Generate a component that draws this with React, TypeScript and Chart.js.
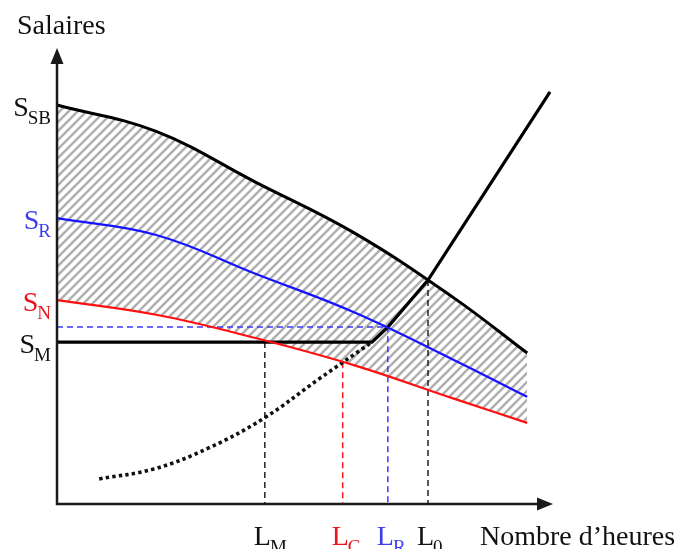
import React, { useEffect, useRef } from 'react';
import { Chart, registerables } from 'chart.js';

Chart.register(...registerables);

// Hours (x, 0-100) and wages (y, 0-100)
const curveHours = [0, 20, 40, 60, 80, 94.8];
const sbWages = [87.5, 81.7, 70.6, 59.4, 45.2, 33.1];
const srWages = [62.7, 59.0, 50.5, 42.0, 31.6, 23.5];
const snWages = [44.7, 41.5, 36.4, 30.4, 23.1, 17.8];
const smHours = [0, 63.5, 66.7, 74.8, 99.4];
const smWages = [35.5, 35.5, 38.8, 49.1, 90.4];
const dotHours = [8.5, 19.6, 30.6, 41.7, 52.8, 63.5];
const dotWages = [5.5, 7.7, 12.3, 18.8, 27.4, 35.5];

// Guide lines: L_M, L_C, L_R, L_0
const xLabelSubs = ['M', 'C', 'R', '0'];
const xLabelHours = [41.9, 57.6, 66.7, 74.8];
const xLabelWages = [35.5, 31.1, 38.8, 49.1];
const xLabelColors = ['#111111', '#e8141a', '#3d3df0', '#111111'];
const guideColors = ['#222222', '#ff1a1a', '#3a3aff', '#222222'];

// Wage labels: S_SB, S_R, S_N, S_M
const yLabelSubs = ['SB', 'R', 'N', 'M'];
const yLabelWages = [87.5, 62.7, 44.7, 35.5];
const yLabelColors = ['#111111', '#3d3df0', '#e8141a', '#111111'];

const yAxisTitle = 'Salaires';
const xAxisTitle = 'Nombre d\u2019heures';

const FONT = '"Liberation Serif", "Times New Roman", serif';

const pts = (xs: number[], ys: number[]) => xs.map((x, i) => ({ x, y: ys[i] }));

function makeHatch(): CanvasPattern | string {
  const n = 9;
  const c = document.createElement('canvas');
  c.width = n;
  c.height = n;
  const g = c.getContext('2d');
  if (!g) return '#bbb';
  g.strokeStyle = '#b0b0b0';
  g.lineWidth = 2.5;
  g.beginPath();
  g.moveTo(-2, n + 2);
  g.lineTo(n + 2, -2);
  g.moveTo(-2, 2);
  g.lineTo(2, -2);
  g.moveTo(n - 2, n + 2);
  g.lineTo(n + 2, n - 2);
  g.stroke();
  const p = g.createPattern(c, 'repeat');
  return p || '#bbb';
}

function drawSub(
  ctx: CanvasRenderingContext2D,
  main: string,
  sub: string,
  x: number,
  y: number,
  color: string,
  align: 'left' | 'right',
) {
  ctx.fillStyle = color;
  ctx.textAlign = 'left';
  ctx.textBaseline = 'alphabetic';
  ctx.font = `28px ${FONT}`;
  const wm = ctx.measureText(main).width;
  ctx.font = `19px ${FONT}`;
  const ws = ctx.measureText(sub).width;
  const left = align === 'left' ? x : x - wm - ws;
  ctx.font = `28px ${FONT}`;
  ctx.fillText(main, left, y);
  ctx.font = `19px ${FONT}`;
  ctx.fillText(sub, left + wm - 1, y + 8);
}

const overlay = {
  id: 'overlay',
  afterDatasetsDraw(chart: any) {
    const { ctx, scales } = chart;
    const xs = scales.x;
    const ys = scales.y;
    const ox = xs.getPixelForValue(0);
    const oy = ys.getPixelForValue(0);
    const tx = xs.getPixelForValue(100);
    const ty = ys.getPixelForValue(100);
    ctx.save();
    ctx.strokeStyle = '#1a1a1a';
    ctx.fillStyle = '#1a1a1a';
    ctx.lineWidth = 2.5;
    ctx.beginPath();
    ctx.moveTo(ox, oy + 1.2);
    ctx.lineTo(ox, ty + 10);
    ctx.moveTo(ox - 1.2, oy);
    ctx.lineTo(tx - 10, oy);
    ctx.stroke();
    ctx.beginPath();
    ctx.moveTo(ox, ty);
    ctx.lineTo(ox - 6.5, ty + 16);
    ctx.lineTo(ox + 6.5, ty + 16);
    ctx.closePath();
    ctx.fill();
    ctx.beginPath();
    ctx.moveTo(tx, oy);
    ctx.lineTo(tx - 16, oy - 6.5);
    ctx.lineTo(tx - 16, oy + 6.5);
    ctx.closePath();
    ctx.fill();

    // Titles
    ctx.fillStyle = '#111111';
    ctx.textAlign = 'left';
    ctx.textBaseline = 'alphabetic';
    ctx.font = `28px ${FONT}`;
    ctx.fillText(yAxisTitle, ox - 40, ty - 14);
    ctx.fillText(xAxisTitle, tx - 73, oy + 41);

    // Wage labels
    yLabelSubs.forEach((s, i) => {
      drawSub(ctx, 'S', s, ox - 5, ys.getPixelForValue(yLabelWages[i]) + 11, yLabelColors[i], 'right');
    });
    // Hour labels
    xLabelSubs.forEach((s, i) => {
      drawSub(ctx, 'L', s, xs.getPixelForValue(xLabelHours[i]) - 11, oy + 41, xLabelColors[i], 'left');
    });
    ctx.restore();
  },
};

export default function App() {
  const ref = useRef<HTMLCanvasElement | null>(null);
  useEffect(() => {
    if (!ref.current) return;
    const hatch = makeHatch();
    const guides = xLabelHours.map((h, i) => {
      const data =
        i === 2
          ? [
              { x: 0, y: xLabelWages[i] },
              { x: h, y: xLabelWages[i] },
              { x: h, y: 0 },
            ]
          : [
              { x: h, y: xLabelWages[i] },
              { x: h, y: 0 },
            ];
      return {
        data,
        borderColor: guideColors[i],
        borderWidth: 1.5,
        borderDash: [6, 4],
        pointRadius: 0,
        fill: false,
        tension: 0,
        clip: false,
      };
    });
    const curve = {
      pointRadius: 0,
      tension: 0.4,
      fill: false,
      clip: false,
    };
    const chart = new Chart(ref.current, {
      type: 'line',
      data: {
        datasets: [
          {
            ...curve,
            data: pts(curveHours, sbWages),
            borderColor: '#000000',
            borderWidth: 3,
            fill: { target: 2 },
            backgroundColor: hatch as any,
          },
          {
            ...curve,
            data: pts(curveHours, srWages),
            borderColor: '#1414ff',
            borderWidth: 2.2,
          },
          {
            ...curve,
            data: pts(curveHours, snWages),
            borderColor: '#ff1010',
            borderWidth: 2.2,
          },
          {
            data: pts(smHours, smWages),
            borderColor: '#000000',
            borderWidth: 3.2,
            pointRadius: 0,
            tension: 0,
            fill: false,
            clip: false,
          },
          {
            ...curve,
            data: pts(dotHours, dotWages),
            borderColor: '#111111',
            borderWidth: 3.6,
            borderDash: [3.4, 3.2],
          },
          ...guides,
        ] as any,
      },
      options: {
        responsive: false,
        animation: false,
        events: [],
        layout: { padding: { left: 57, right: 131, top: 48, bottom: 45 } },
        scales: {
          x: { type: 'linear', min: 0, max: 100, display: false },
          y: { type: 'linear', min: 0, max: 100, display: false },
        },
        plugins: {
          legend: { display: false },
          tooltip: { enabled: false },
          filler: { drawTime: 'beforeDatasetsDraw' } as any,
        },
      },
      plugins: [overlay],
    });
    return () => chart.destroy();
  }, []);
  return (
    <div style={{ position: 'fixed', left: 0, top: 0, width: 684, height: 549, background: '#fff' }}>
      <canvas ref={ref} width={684} height={549} style={{ width: 684, height: 549, display: 'block' }} />
    </div>
  );
}
